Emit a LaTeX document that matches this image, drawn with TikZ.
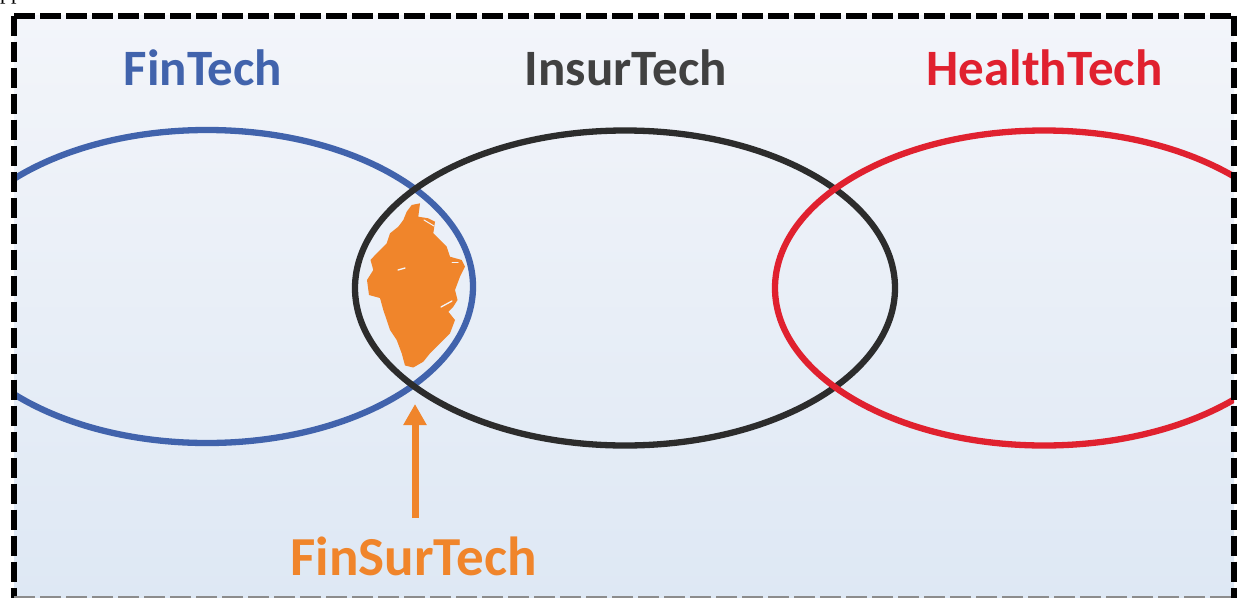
\documentclass[tikz,border=0pt]{standalone}
\usepackage{fontspec}
\setmainfont{Carlito}
\newfontfamily\serifpp{Liberation Serif}
\usetikzlibrary{arrows.meta}
\definecolor{bgtop}{HTML}{F3F5FA}
\definecolor{bgbot}{HTML}{DEE8F4}
\definecolor{finblue}{HTML}{4163AC}
\definecolor{insblack}{HTML}{2C2C2C}
\definecolor{healthred}{HTML}{E0212F}
\definecolor{fsorange}{HTML}{F0852B}
\tikzset{
  ring/.style={line width=6.3pt},
  lbl/.style={font=\bfseries\fontsize{51}{51}\selectfont, anchor=base, inner sep=0pt},
  frame/.style={line width=6pt, dash pattern=on 20.5pt off 5.5pt, black},
}
\begin{document}
\begin{tikzpicture}[x=1pt,y=-1pt]
\useasboundingbox (0,0) rectangle (1238,597);
\clip (0,0) rectangle (1238,597);
\fill[white] (0,0) rectangle (1238,597);
\shade[top color=bgtop, bottom color=bgbot] (14,15.5) rectangle (1234,598);
% fragment of text above
\node[font=\serifpp\fontsize{22}{22}\selectfont, anchor=base west, inner sep=0pt] (pp) at (0,-1) {pp};
% orange scribble
\fill[fsorange]
 (411.7,205) -- (420,203.3) -- (418.3,216.7) -- (428.3,218.3) -- (435,221.7) -- (433.3,233.3)
 -- (446.7,246.7) -- (450,256.7) -- (461.7,260) -- (465,266.7) -- (460,276.7) -- (455,290)
 -- (457.5,300) -- (453.3,306.7) -- (448.3,311.7) -- (455,320) -- (450,333.3) -- (440,343.3)
 -- (430,353.3) -- (423.3,361.7) -- (413.3,367.5) -- (405,365.5) -- (401.7,353.3) -- (396.7,340)
 -- (390,330) -- (386.7,320) -- (383.3,310) -- (380,298) -- (369,295) -- (367,280)
 -- (373.3,270) -- (370.5,260) -- (376.7,253.3) -- (386.7,243.3) -- (390,233.3) -- (398.3,226.7)
 -- (403.3,220) -- (406.7,211.7) -- cycle;
\draw[bgtop, line width=1.3pt, line cap=round] (398,270) -- (405,268);
\draw[bgtop, line width=1.3pt, line cap=round] (441,307) -- (452,301);
\draw[bgtop, line width=1pt, line cap=round] (424,220) -- (434,226);
\draw[bgtop, line width=1pt, line cap=round] (452,262) -- (458,262);
% ellipses clipped to the frame
\begin{scope}
\clip (14,15.5) rectangle (1234,598);
\draw[ring, finblue] (207,286.5) ellipse [x radius=266, y radius=156.5];
\draw[ring, insblack] (625,288) ellipse [x radius=270, y radius=157.5];
\draw[ring, healthred] (1044,288) ellipse [x radius=269, y radius=157.5];
\end{scope}
% labels
\node[lbl, text=finblue] (fin) at (203,85) {FinTech};
\node[lbl, text=insblack!90!white] (ins) at (626,85) {InsurTech};
\node[lbl, text=healthred] (hea) at (1044.5,85) {HealthTech};
\node[lbl, text=fsorange, font=\bfseries\fontsize{55}{55}\selectfont] (fst) at (413.5,575) {FinSurTech};
% arrow
\coordinate (abot) at (415,518);
\coordinate (atip) at (415,404);
\draw[fsorange, line width=7pt, -{Triangle[length=21pt,width=22pt]}] (abot) -- (atip);
% frame
\draw[frame] (14,15.5) -- (1234,15.5);
\draw[frame] (14,15.5) -- (14,598);
\draw[frame] (1234,15.5) -- (1234,598);
\draw[frame, black!45] (14,599) -- (1234,599);
\end{tikzpicture}
\end{document}
